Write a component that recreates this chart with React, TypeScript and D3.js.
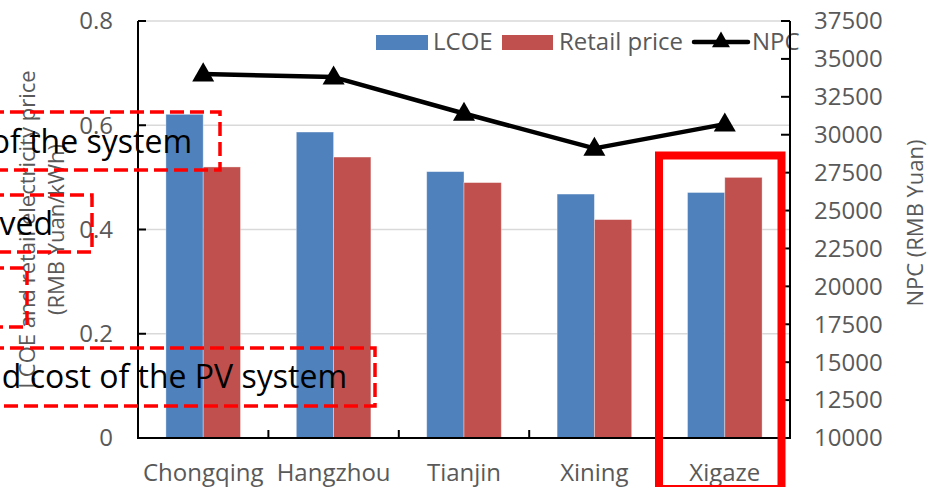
import React from "react";
import * as d3 from "d3";

// ---- data ----
const cities = ["Chongqing", "Hangzhou", "Tianjin", "Xining", "Xigaze"];
const lcoe = [0.621, 0.587, 0.511, 0.468, 0.471];
const retailPrice = [0.52, 0.539, 0.49, 0.419, 0.5];
const npc = [34000, 33800, 31400, 29100, 30700];

const leftTicks = [0, 0.2, 0.4, 0.6, 0.8];
const rightTicks = [10000, 12500, 15000, 17500, 20000, 22500, 25000, 27500, 30000, 32500, 35000, 37500];

const seriesNames = ["LCOE", "Retail price"];
const seriesColors = ["#4F81BD", "#C0504D"];
const callouts = ["of the system", "ved", "", "d cost of the PV system"];

// ---- layout ----
const W = 928;
const H = 487;
const plot = { left: 138, right: 790, top: 21, bottom: 438 };
const FONT = "'Open Sans', 'DejaVu Sans', sans-serif";
const GREY = "#595959";

export default function App() {
  const x0 = d3.scaleBand<string>().domain(cities).range([plot.left, plot.right]).padding(0);
  const bw = x0.bandwidth();
  const groupFrac = 0.572;
  const x1 = d3
    .scaleBand<string>()
    .domain(seriesNames)
    .range([(bw * (1 - groupFrac)) / 2, (bw * (1 + groupFrac)) / 2])
    .padding(0);
  const yL = d3.scaleLinear().domain([0, 0.8]).range([plot.bottom, plot.top]);
  const yR = d3.scaleLinear().domain([10000, 37500]).range([plot.bottom, plot.top]);

  const series = [lcoe, retailPrice];
  const cx = (c: string) => (x0(c) ?? 0) + bw / 2;

  const line = d3
    .line<number>()
    .x((_, i) => cx(cities[i]))
    .y((d) => yR(d));
  const tri = d3.symbol().type(d3.symbolTriangle).size(210)();
  const triSmall = d3.symbol().type(d3.symbolTriangle).size(140)();

  const boundaries = d3.range(cities.length + 1).map((i) => plot.left + i * bw);

  // callout frames drawn over the chart
  const frames = [
    { x: -10, y: 112, w: 230, h: 58, tx: 192, ty: 153 },
    { x: -10, y: 195, w: 102, h: 57, tx: 53, ty: 235 },
    { x: -10, y: 268, w: 37, h: 59, tx: 20, ty: 310 },
    { x: -10, y: 348, w: 385, h: 58, tx: 347, ty: 388 },
  ];

  return (
    <svg width={W} height={H} style={{ position: "absolute", left: 0, top: 0, background: "#fff" }}>
      <rect x={0} y={0} width={W} height={H} fill="#fff" />
      {/* gridlines */}
      {leftTicks
        .filter((t) => t > 0)
        .map((t) => (
          <line key={"g" + t} x1={plot.left} x2={plot.right} y1={yL(t)} y2={yL(t)} stroke="#d9d9d9" strokeWidth={1.3} />
        ))}

      {/* bars */}
      {cities.map((c, i) => (
        <g key={c} transform={`translate(${x0(c)},0)`}>
          {series.map((s, k) => (
            <rect
              key={k}
              x={x1(seriesNames[k])}
              y={yL(s[i])}
              width={x1.bandwidth()}
              height={yL(0) - yL(s[i])}
              fill={seriesColors[k]}
              stroke="#ffffff"
              strokeOpacity={0.45}
              strokeWidth={0.8}
            />
          ))}
        </g>
      ))}

      {/* NPC line */}
      <path d={line(npc) ?? ""} fill="none" stroke="#000" strokeWidth={4.5} strokeLinejoin="round" />
      {npc.map((v, i) => (
        <path key={i} d={tri ?? ""} transform={`translate(${cx(cities[i])},${yR(v) + 1})`} fill="#000" />
      ))}

      {/* axes */}
      <line x1={plot.left} x2={plot.left} y1={plot.top} y2={plot.bottom} stroke="#000" strokeWidth={2} />
      <line x1={plot.right} x2={plot.right} y1={plot.top} y2={plot.bottom} stroke="#000" strokeWidth={2} />
      <line x1={plot.left - 1} x2={plot.right + 1} y1={plot.bottom} y2={plot.bottom} stroke="#000" strokeWidth={2} />
      {leftTicks.map((t) => (
        <g key={"l" + t}>
          <line x1={plot.left} x2={plot.left + 8} y1={yL(t)} y2={yL(t)} stroke="#000" strokeWidth={2} />
          <text x={113} y={yL(t)} dy="0.35em" textAnchor="end" fontFamily={FONT} fontSize={24} fill={GREY}>
            {t === 0 ? "0" : d3.format(".1f")(t)}
          </text>
        </g>
      ))}
      {rightTicks.map((t) => (
        <g key={"r" + t}>
          <line x1={plot.right - 9} x2={plot.right} y1={yR(t)} y2={yR(t)} stroke="#000" strokeWidth={2} />
          <text x={814} y={yR(t)} dy="0.35em" textAnchor="start" fontFamily={FONT} fontSize={24} fill={GREY}>
            {t}
          </text>
        </g>
      ))}
      {boundaries.map((bx, i) => (
        <line key={"b" + i} x1={bx} x2={bx} y1={plot.bottom - 8} y2={plot.bottom} stroke="#000" strokeWidth={2} />
      ))}
      {cities.map((c) => (
        <text key={"c" + c} x={cx(c)} y={481} textAnchor="middle" fontFamily={FONT} fontSize={24} fill={GREY}>
          {c}
        </text>
      ))}

      {/* axis titles */}
      <g transform={`translate(27,${(plot.top + plot.bottom) / 2}) rotate(-90)`}>
        <text textAnchor="middle" dy="0.35em" fontFamily={FONT} fontSize={22} fill={GREY}>
          LCOE and retail electricity price
        </text>
      </g>
      <g transform={`translate(56,${(plot.top + plot.bottom) / 2}) rotate(-90)`}>
        <text textAnchor="middle" dy="0.35em" fontFamily={FONT} fontSize={22} fill={GREY}>
          (RMB Yuan/kWh)
        </text>
      </g>
      <g transform={`translate(915,223) rotate(-90)`}>
        <text textAnchor="middle" dy="0.35em" fontFamily={FONT} fontSize={22} fill={GREY}>
          NPC (RMB Yuan)
        </text>
      </g>

      {/* legend */}
      <g fontFamily={FONT} fontSize={24} fill={GREY}>
        <rect x={376} y={35} width={52} height={15} fill={seriesColors[0]} />
        <text x={433} y={42} dy="0.35em">{seriesNames[0]}</text>
        <rect x={502} y={35} width={51} height={15} fill={seriesColors[1]} />
        <text x={559} y={42} dy="0.35em">{seriesNames[1]}</text>
        <line x1={694} x2={748} y1={42} y2={42} stroke="#000" strokeWidth={4.5} strokeLinecap="round" />
        <path d={triSmall ?? ""} transform="translate(721,42)" fill="#000" />
        <text x={752} y={42} dy="0.35em">NPC</text>
      </g>
      {/* right axis line passes over the legend label */}
      <line x1={plot.right} x2={plot.right} y1={plot.top} y2={70} stroke="#000" strokeWidth={2} />

      {/* callouts */}
      {frames.map((f, i) => (
        <g key={"f" + i}>
          <rect x={f.x} y={f.y} width={f.w} height={f.h} fill="none" stroke="#ff0000" strokeWidth={3.5} strokeDasharray="14 6" />
          {callouts[i] && (
            <text x={f.tx} y={f.ty} textAnchor="end" fontFamily={FONT} fontSize={32} fill="#000">
              {callouts[i]}
            </text>
          )}
        </g>
      ))}
      <rect x={659} y={155.5} width={122.5} height={333.5} fill="none" stroke="#ff0000" strokeWidth={8} />
    </svg>
  );
}
